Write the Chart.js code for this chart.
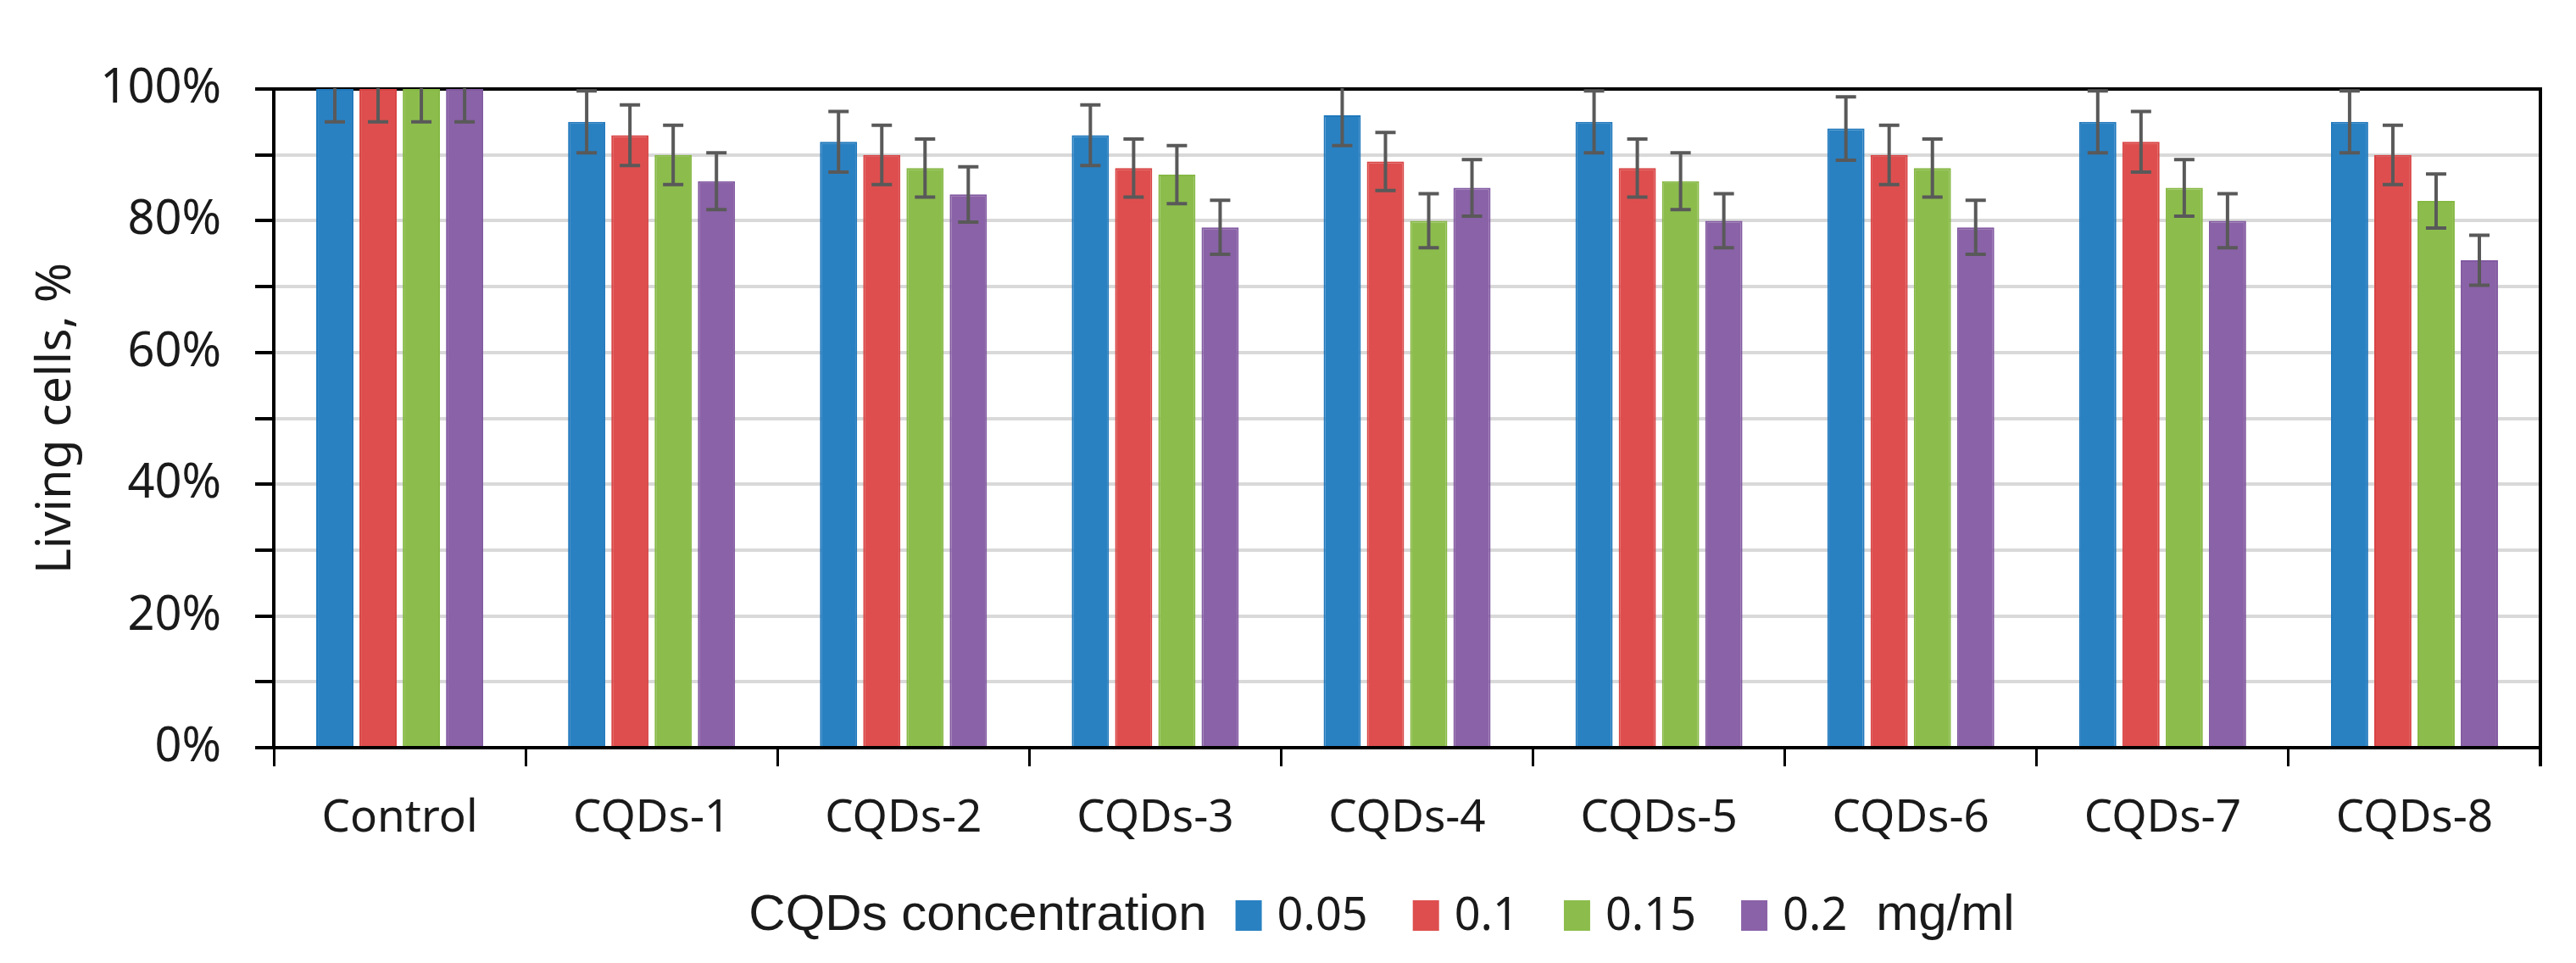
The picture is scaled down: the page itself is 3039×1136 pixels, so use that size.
<!DOCTYPE html>
<html>
<head>
<meta charset="utf-8">
<script src="https://cdn.jsdelivr.net/npm/chart.js@4/dist/chart.umd.min.js"></script>
<style>
  html, body { margin: 0; padding: 0; background: #fff; }
  canvas { display: block; }
</style>
</head>
<body>
<canvas id="c" width="3039" height="1136"></canvas>
<script>
// ---- data ----
const categories = ['Control', 'CQDs-1', 'CQDs-2', 'CQDs-3', 'CQDs-4', 'CQDs-5', 'CQDs-6', 'CQDs-7', 'CQDs-8'];
const seriesLabels = ['0.05', '0.1', '0.15', '0.2'];
const values005 = [100, 95, 92, 93, 96, 95, 94, 95, 95];
const values01  = [100, 93, 90, 88, 89, 88, 90, 92, 90];
const values015 = [100, 90, 88, 87, 80, 86, 88, 85, 83];
const values02  = [100, 86, 84, 79, 85, 80, 79, 80, 74];
const errors005 = [5, 4.7, 4.6, 4.6, 4.6, 4.7, 4.8, 4.7, 4.7];
const errors01  = [5, 4.6, 4.5, 4.4, 4.4, 4.4, 4.5, 4.6, 4.5];
const errors015 = [5, 4.5, 4.4, 4.4, 4.1, 4.3, 4.4, 4.3, 4.1];
const errors02  = [5, 4.3, 4.2, 4.1, 4.3, 4.1, 4.1, 4.1, 3.8];
const yTickStep = 10;
const yLabelEvery = 20;
const legendTitle = 'CQDs concentration';
const legendUnit = 'mg/ml';
const yTitle = 'Living cells, %';

// ---- styles ----
const fills   = ['#2981C2', '#DE4E4E', '#8CBD4C', '#8A62A7'];
const borders = ['#1F78BC', '#D94444', '#86B844', '#8159A1'];
const allValues = [values005, values01, values015, values02];
const allErrors = [errors005, errors01, errors015, errors02];

const datasets = seriesLabels.map((lab, i) => ({
  label: lab,
  data: allValues[i],
  errors: allErrors[i],
  backgroundColor: fills[i],
  borderColor: borders[i],
  borderWidth: 2,
  categoryPercentage: 0.687,
  barPercentage: 0.86
}));

const errorBarPlugin = {
  id: 'errorBars',
  afterDatasetsDraw(chart) {
    const ctx = chart.ctx;
    const ys = chart.scales.y;
    const area = chart.chartArea;
    ctx.save();
    ctx.beginPath();
    ctx.rect(area.left, area.top - 1, area.right - area.left, area.bottom - area.top + 2);
    ctx.clip();
    ctx.strokeStyle = '#595959';
    ctx.lineWidth = 4;
    chart.data.datasets.forEach((ds, i) => {
      const meta = chart.getDatasetMeta(i);
      meta.data.forEach((bar, j) => {
        const v = ds.data[j], e = ds.errors[j];
        const yt = ys.getPixelForValue(v + e);
        const yb = ys.getPixelForValue(v - e);
        const x = bar.x;
        ctx.beginPath();
        ctx.moveTo(x, yt); ctx.lineTo(x, yb);
        ctx.moveTo(x - 12, yt); ctx.lineTo(x + 12, yt);
        ctx.moveTo(x - 12, yb); ctx.lineTo(x + 12, yb);
        ctx.stroke();
      });
    });
    ctx.restore();
  }
};

const framePlugin = {
  id: 'frame',
  beforeDatasetsDraw(chart) {
    const ctx = chart.ctx, a = chart.chartArea;
    ctx.save();
    ctx.strokeStyle = '#000';
    ctx.lineWidth = 4;
    ctx.beginPath();
    ctx.moveTo(a.right, a.top - 2);
    ctx.lineTo(a.right, a.bottom + 22);
    ctx.stroke();
    ctx.restore();
  }
};

const legendPlugin = {
  id: 'customLegend',
  afterDraw(chart) {
    const ctx = chart.ctx;
    const yc = 1080;
    const titleFont = '60px "Liberation Sans"';
    const itemFont = '54px "Noto Sans"';
    const sw = 31, sh = 36, gapSw = 18, gapItem = 53, gapTitle = 34;
    ctx.save();
    ctx.textBaseline = 'middle';
    ctx.font = titleFont;
    const tW = ctx.measureText(legendTitle).width;
    const uW = ctx.measureText(legendUnit).width;
    ctx.font = itemFont;
    const items = chart.data.datasets.map(d => ({ label: d.label, color: d.backgroundColor, w: ctx.measureText(d.label).width }));
    let total = tW + gapTitle + uW + gapTitle;
    items.forEach((it, k) => { total += sw + gapSw + it.w + (k < items.length - 1 ? gapItem : 0); });
    let x = 1630 - total / 2;
    ctx.fillStyle = '#1a1a1a';
    ctx.font = titleFont;
    ctx.textAlign = 'left';
    ctx.fillText(legendTitle, x, yc);
    x += tW + gapTitle;
    items.forEach((it, k) => {
      ctx.fillStyle = it.color;
      ctx.fillRect(x, yc - sh / 2, sw, sh);
      x += sw + gapSw;
      ctx.fillStyle = '#1a1a1a';
      ctx.font = itemFont;
      ctx.fillText(it.label, x, yc + 2);
      x += it.w + (k < items.length - 1 ? gapItem : 0);
    });
    x += gapTitle;
    ctx.font = titleFont;
    ctx.fillText(legendUnit, x, yc);
    ctx.restore();
  }
};

new Chart(document.getElementById('c'), {
  type: 'bar',
  data: { labels: categories, datasets },
  plugins: [errorBarPlugin, framePlugin, legendPlugin],
  options: {
    responsive: false,
    devicePixelRatio: 1,
    animation: false,
    layout: { padding: { top: 105, right: 42, left: 0, bottom: 0 } },
    plugins: { legend: { display: false }, tooltip: { enabled: false } },
    scales: {
      x: {
        afterFit(scale) { scale.height = 254; },
        grid: { offset: true, drawOnChartArea: false, color: '#000', tickColor: '#000', tickLength: 22, lineWidth: 3 },
        border: { color: '#000', width: 4 },
        ticks: { color: '#1a1a1a', font: { family: 'Noto Sans', size: 53 }, padding: 30, maxRotation: 0, autoSkip: false }
      },
      y: {
        min: 0, max: 100,
        afterFit(scale) { scale.width = 323; },
        grid: {
          color: c => (c.tick && c.tick.value === 100 ? '#000' : '#d9d9d9'),
          lineWidth: 4, tickColor: '#000', tickLength: 22
        },
        border: { color: '#000', width: 4 },
        ticks: {
          stepSize: yTickStep,
          color: '#1a1a1a',
          font: { family: 'Noto Sans', size: 56 },
          padding: 40,
          callback: v => (v % yLabelEvery === 0 ? v + '%' : '')
        },
        title: {
          display: true, text: yTitle, color: '#1a1a1a',
          font: { family: 'Noto Sans', size: 57 },
          padding: { top: 33, bottom: 0 }
        }
      }
    }
  }
});
</script>
</body>
</html>
